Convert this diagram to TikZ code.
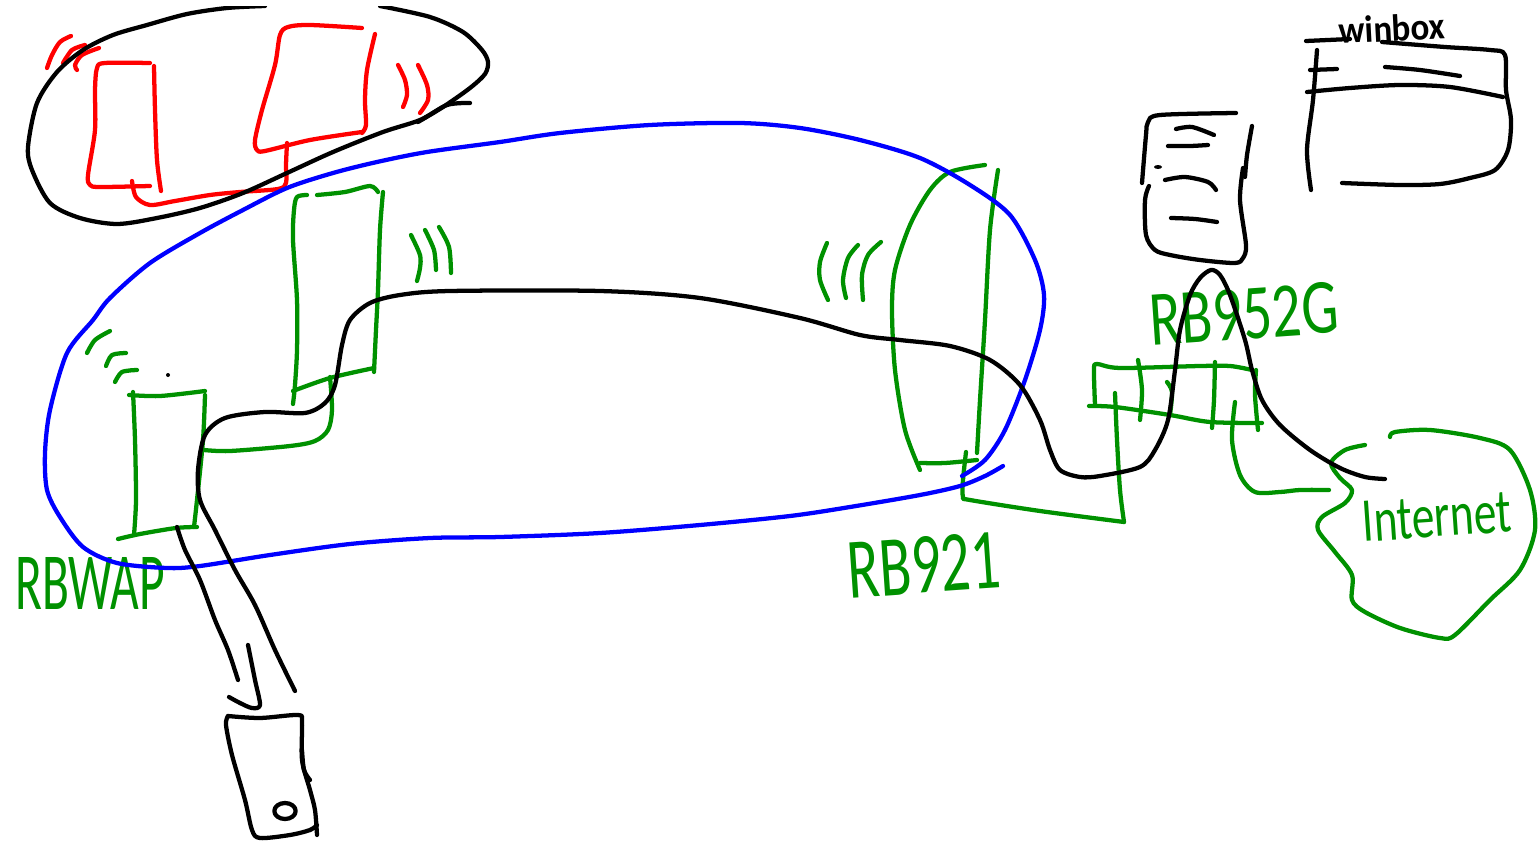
\documentclass[tikz,border=0pt]{standalone}
\usepackage{fontspec}
\usepackage{graphicx}
\setmainfont{Carlito}
\definecolor{inkgreen}{RGB}{0,145,0}
\definecolor{inkred}{RGB}{255,0,0}
\definecolor{inkblue}{RGB}{0,0,255}
\newcommand\inkline[2]{\draw[#1,penstroke] plot[smooth,tension=0.5] coordinates {#2};}
\newcommand\inklab[7]{\node[labeltext,rotate=#6] (#1) at (#2,#3) {\resizebox{#4pt}{#5pt}{#7}};}
\tikzset{
  penstroke/.style={line width=3.2pt,line cap=round,line join=round},
  labeltext/.style={text=inkgreen,inner sep=0pt,outer sep=0pt}
}
\begin{document}
\begin{tikzpicture}[x=0.75pt,y=-0.75pt]
\useasboundingbox (0,0) rectangle (1539,842);
% labels
\inklab{rbwap}{90}{583}{112}{39}{0}{RBWAP}
\inklab{rb921}{924}{565}{115}{42}{4}{RB921}
\inklab{rb952}{1244}{314}{142}{38}{4}{RB952G}
\inklab{inet}{1437}{517}{112}{30}{4}{Internet}
\node[inner sep=0pt,rotate=3] (winbox) at (1392,28) {\resizebox{80pt}{20pt}{\bfseries winbox}};
% green: RBWAP box
\inkline{inkgreen}{(129,395)(160,396)(205,391)}
\inkline{inkgreen}{(133,392)(135,440)(136,500)(134,535)}
\inkline{inkgreen}{(118,539)(140,534)(176,528)(197,527)}
\inkline{inkgreen}{(205,395)(203,440)(197,500)(194,527)}
\inkline{inkgreen}{(204,450)(230,451)(290,446)(315,441)(328,430)(332,410)(330,377)}
\inkline{inkgreen}{(87,353)(95,340)(110,331)}
\inkline{inkgreen}{(106,366)(112,355)(126,353)}
\inkline{inkgreen}{(115,382)(122,372)(137,370)}
\fill[black] (168,375) circle (1.5pt);
% green: upper box
\inkline{inkgreen}{(307,195)(297,197)(294,210)(293,240)(297,300)(297,350)(295,385)(293,404)}
\inkline{inkgreen}{(317,195)(345,192)(370,186)(378,192)}
\inkline{inkgreen}{(383,192)(380,230)(378,290)(376,330)(374,372)}
\inkline{inkgreen}{(293,391)(330,378)(374,368)}
\inkline{inkgreen}{(411,235)(420,255)(420,268)(417,281)}
\inkline{inkgreen}{(425,230)(434,250)(436,270)}
\inkline{inkgreen}{(439,227)(449,247)(451,273)}
% green: RB921
\inkline{inkgreen}{(920,470)(905,430)(895,370)(892,310)(895,270)(910,225)(930,190)(950,172)(985,165)}
\inkline{inkgreen}{(998,170)(990,230)(985,320)(980,400)(977,453)}
\inkline{inkgreen}{(920,463)(945,463)(977,460)}
\inkline{inkgreen}{(966,452)(963,480)(963,497)(970,500)(1040,511)(1124,522)}
\inkline{inkgreen}{(1124,522)(1120,490)(1117,440)(1115,393)}
\inkline{inkgreen}{(828,300)(820,280)(820,262)(827,243)}
\inkline{inkgreen}{(846,298)(843,280)(848,258)(858,245)}
\inkline{inkgreen}{(863,300)(862,275)(868,255)(881,242)}
% green: RB952G box
\inkline{inkgreen}{(1095,405)(1094,370)(1097,364)(1120,368)(1200,366)(1230,366)(1252,370)}
\inkline{inkgreen}{(1089,406)(1115,407)(1170,415)(1210,422)(1262,423)}
\inkline{inkgreen}{(1256,370)(1255,395)(1258,430)}
\inkline{inkgreen}{(1138,360)(1142,390)(1140,420)}
\inkline{inkgreen}{(1167,382)(1172,392)(1170,415)}
\inkline{inkgreen}{(1215,362)(1214,400)(1212,428)}
\inkline{inkgreen}{(1235,402)(1232,440)(1240,475)(1255,492)(1280,492)(1300,490)(1329,490)}
% green: Internet cloud
\inkline{inkgreen}{(1365,445)(1345,450)(1331,463)(1340,478)(1352,490)(1345,503)(1322,517)(1318,530)(1335,552)(1352,575)(1352,600)(1365,612)(1400,628)(1440,638)(1455,635)(1490,600)(1520,570)(1535,530)(1530,490)(1510,450)(1480,438)(1430,430)(1395,432)(1390,437)}
% red
\inkline{inkred}{(150,63)(105,63)(97,68)(95,90)(95,130)(88,175)(90,185)(100,187)(150,186)}
\inkline{inkred}{(154,66)(155,110)(157,160)(161,191)}
\inkline{inkred}{(132,181)(136,197)(150,205)(175,201)(210,195)(240,192)(278,189)(286,183)(286,165)(287,143)}
\inkline{inkred}{(362,28)(310,25)(288,27)(280,35)(275,65)(262,110)(255,140)(257,150)(265,151)(310,140)(362,132)}
\inkline{inkred}{(375,34)(367,70)(365,100)(366,125)(362,133)}
\inkline{inkred}{(47,68)(52,55)(60,42)(71,36)}
\inkline{inkred}{(63,63)(72,50)(85,45)}
\inkline{inkred}{(77,70)(75,65)(82,55)(99,48)}
\inkline{inkred}{(398,65)(405,80)(407,95)(403,107)}
\inkline{inkred}{(418,65)(427,85)(428,100)(420,113)}
% blue
\inkline{inkblue}{(1003,466)(985,476)(960,486)(920,495)(850,507)(790,516)(700,525)(600,533)(500,537)(430,538)(350,544)(270,555)(200,566)(167,568)(117,563)(83,547)(60,517)(47,490)(45,453)(50,410)(67,353)(93,320)(110,298)(150,263)(200,233)(243,210)(287,188)(333,173)(377,162)(427,152)(500,142)(560,133)(650,125)(740,123)(800,128)(860,140)(920,158)(970,185)(1010,215)(1035,260)(1044,295)(1040,330)(1025,380)(1005,430)(985,460)(962,476)}
% black: ellipse (cut by the top edge)
\begin{scope}
\clip (0,7) rectangle (1539,842);
\inkline{black}{(265,6)(227,8)(187,14)(147,25)(113,35)(83,50)(57,72)(37,103)(28,147)(32,170)(50,203)(80,218)(117,224)(157,218)(200,208)(243,193)(287,173)(333,152)(383,132)(420,120)(447,105)(470,103)}
\inkline{black}{(380,6)(430,17)(463,32)(482,50)(488,62)(485,74)(470,88)(443,107)(418,122)}
\end{scope}
% black: server
\inkline{black}{(1142,183)(1146,135)(1148,122)(1160,115)(1236,113)}
\inkline{black}{(1149,186)(1145,200)(1146,235)(1155,250)(1170,255)(1200,260)(1235,263)(1243,258)(1246,245)(1240,200)(1243,168)}
\inkline{black}{(1252,126)(1247,155)(1245,177)}
\inkline{black}{(1176,129)(1192,127)(1214,135)}
\inkline{black}{(1168,146)(1190,146)(1208,145)}
\fill[black] (1158,167) ellipse (3pt and 1.5pt);
\inkline{black}{(1165,180)(1185,177)(1208,182)(1216,190)}
\inkline{black}{(1171,218)(1195,219)(1217,222)}
% black: winbox window
\inkline{black}{(1306,41)(1350,39)}
\inkline{black}{(1382,42)(1445,47)(1490,50)(1505,55)(1506,90)(1511,120)(1508,150)(1495,170)(1470,178)(1440,184)(1400,185)(1342,183)}
\inkline{black}{(1317,50)(1313,100)(1307,150)(1311,190)}
\inkline{black}{(1310,70)(1337,69)}
\inkline{black}{(1385,67)(1420,70)(1460,76)}
\inkline{black}{(1307,92)(1350,88)(1400,85)(1450,87)(1503,97)}
% black: long cable
\inkline{black}{(1385,479)(1365,477)(1340,468)(1310,450)(1280,425)(1262,400)(1252,370)(1245,340)(1230,295)(1220,275)(1211,270)(1200,278)(1190,295)(1180,330)(1175,370)(1168,420)(1155,450)(1140,467)(1100,476)(1080,477)(1060,470)(1050,450)(1040,420)(1020,385)(990,360)(950,346)(900,340)(860,335)(800,318)(700,298)(600,291)(450,291)(400,295)(370,303)(350,320)(342,345)(335,385)(325,403)(305,413)(265,412)(225,418)(205,435)(198,470)(200,500)(215,530)(235,570)(255,605)(275,650)(295,691)}
\inkline{black}{(177,527)(185,550)(200,580)(215,620)(228,650)(238,680)}
\inkline{black}{(248,645)(255,680)(260,705)(252,708)(240,703)(229,697)}
% black: phone
\inkline{black}{(228,716)(226,725)(232,755)(245,800)(252,830)(260,838)(290,835)(310,830)(317,825)}
\inkline{black}{(228,716)(260,718)(298,715)(302,722)(302,760)(310,790)(315,810)(317,835)}
\inkline{black}{(302,750)(304,770)(310,780)}
\draw[black,penstroke] (285,811) ellipse (8pt and 6pt);
\end{tikzpicture}
\end{document}
